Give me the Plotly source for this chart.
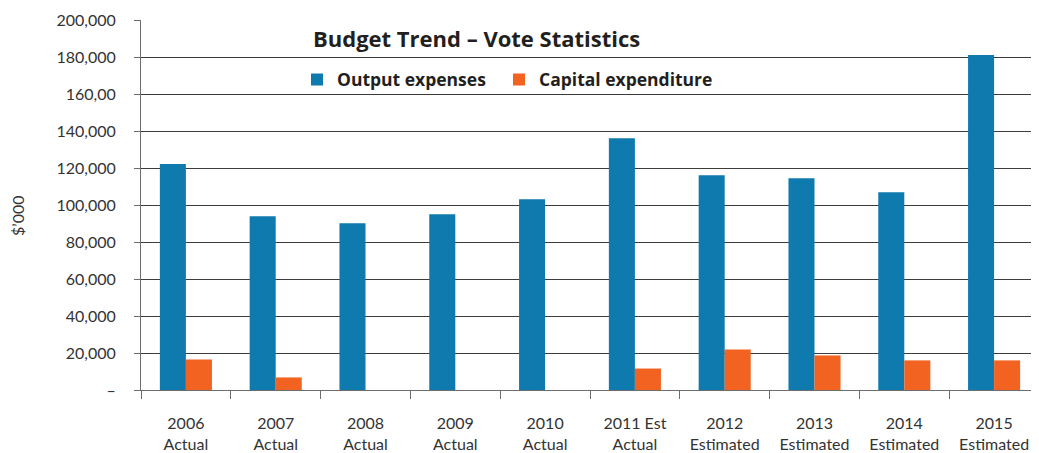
import plotly.graph_objects as go

categories = ["2006<br>Actual", "2007<br>Actual", "2008<br>Actual", "2009<br>Actual", "2010<br>Actual",
              "2011 Est<br>Actual", "2012<br>Estimated", "2013<br>Estimated", "2014<br>Estimated", "2015<br>Estimated"]
output_expenses = [122100, 93900, 90100, 95000, 103100, 136100, 116100, 114500, 106900, 181100]
capital_expenditure = [16500, 6800, 0, 0, 0, 11600, 21900, 18700, 16000, 16000]
y_tickvals = [0, 20000, 40000, 60000, 80000, 100000, 120000, 140000, 160000, 180000, 200000]
y_ticktext = ["–", "20,000", "40,000", "60,000", "80,000", "100,000", "120,000", "140,000", "160,00", "180,000", "200,000"]

FONT = "Lato"
OFF = 8  # page body margin offset
W, H = 1039 - OFF, 453 - OFF
L, R, T, B = 141 - OFF, 0, 20 - OFF, 63
PW = W - L - R
PH = H - T - B

fig = go.Figure()
fig.add_trace(go.Bar(name="Output expenses", x=categories, y=output_expenses, marker_color="#0F7AAD",
                     marker_line_width=0, legend="legend"))
fig.add_trace(go.Bar(name="Capital expenditure", x=categories, y=capital_expenditure, marker_color="#F26322",
                     marker_line_width=0, legend="legend2"))

legend_font = dict(family="Open Sans", size=17.5, color="#231F20", weight="bold")
legend_y = 1 - (79.5 - OFF - T)/PH
fig.update_layout(
    width=W, height=H,
    margin=dict(l=L, r=R, t=T, b=B, autoexpand=False),
    paper_bgcolor="white", plot_bgcolor="white",
    barmode="group", bargap=0.42, bargroupgap=0,
    font=dict(family=FONT, size=16, color="#333333"),
    title=dict(text="<b>Budget Trend – Vote Statistics</b>", x=(313 - OFF)/W, xanchor="left", xref="container",
               y=1 - (39 - OFF)/H, yanchor="middle", yref="container",
               font=dict(family="Open Sans", size=22, color="#231F20"), automargin=False),
    legend=dict(orientation="h", x=(297 - OFF - L)/PW, xanchor="left", y=legend_y, yanchor="middle",
                font=legend_font, bgcolor="rgba(0,0,0,0)", itemwidth=30),
    legend2=dict(orientation="h", x=(499 - OFF - L)/PW, xanchor="left", y=legend_y, yanchor="middle",
                 font=legend_font, bgcolor="rgba(0,0,0,0)", itemwidth=30),
    showlegend=True,
)
fig.update_xaxes(showline=True, linecolor="#6d6d6d", linewidth=1, ticks="outside", ticklen=8, tickcolor="#6d6d6d",
                 tickson="boundaries", showgrid=False, tickfont=dict(size=16, color="#333333"),
                 ticklabelstandoff=19, automargin=False)
fig.update_yaxes(range=[0, 200000], tickvals=y_tickvals, ticktext=y_ticktext, showline=True, linecolor="#6d6d6d",
                 linewidth=1, ticks="outside", ticklen=6, tickcolor="#6d6d6d", showgrid=True, gridcolor="#3c3c3c",
                 gridwidth=1, zeroline=False, tickfont=dict(size=16, color="#333333"), ticklabelstandoff=15,
                 automargin=False)
fig.add_annotation(text="$’000", xref="paper", yref="paper", x=(18 - OFF - L)/PW, y=(390 - 215)/PH, showarrow=False,
                   textangle=-90, font=dict(size=16, color="#333333"), xanchor="center", yanchor="middle")
fig.write_html("out.html")
